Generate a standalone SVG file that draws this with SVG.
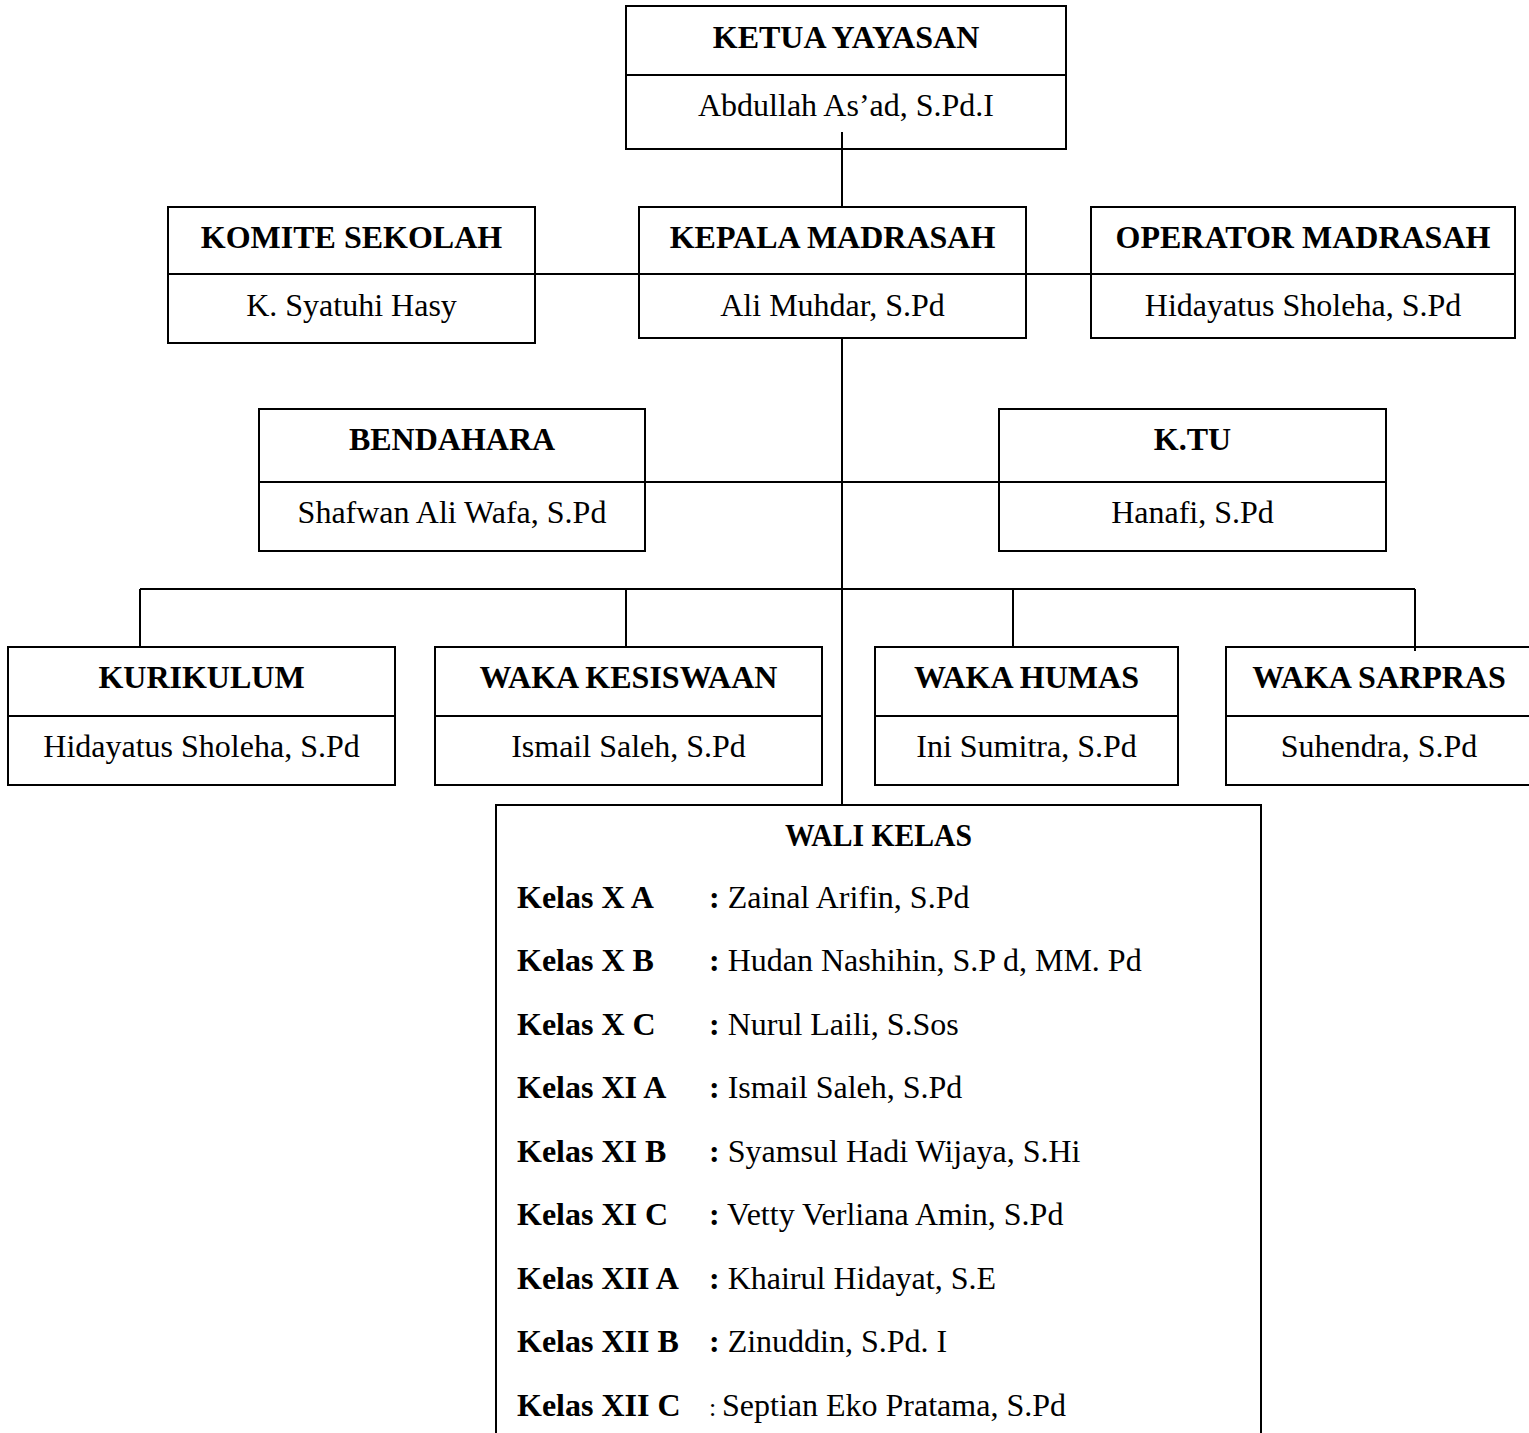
<svg xmlns="http://www.w3.org/2000/svg" width="1529" height="1433" viewBox="0 0 1529 1433">
<style>
.box{fill:#fff;stroke:#000;stroke-width:2}
.div{stroke:#000;stroke-width:2}
.t{font-family:"Liberation Serif","Times New Roman",serif;font-size:32px;font-weight:bold;text-anchor:middle;fill:#000}
.n{font-family:"Liberation Serif","Times New Roman",serif;font-size:32px;text-anchor:middle;fill:#000}
.k{font-family:"Liberation Serif","Times New Roman",serif;font-size:32px;font-weight:bold;fill:#000}
.v{font-family:"Liberation Serif","Times New Roman",serif;font-size:32px;fill:#000}
.c{stroke:#000;stroke-width:2;fill:none}
</style>
<rect width="1529" height="1433" fill="#fff"/>
<g id="ketua">
<rect class="box" x="626" y="6" width="440" height="143"/>
<line class="div" x1="626" y1="75" x2="1066" y2="75"/>
<text class="t" x="846" y="48">KETUA YAYASAN</text>
<text class="n" x="846" y="116">Abdullah As’ad, S.Pd.I</text>
</g>
<g id="komite">
<rect class="box" x="168" y="207" width="367" height="136"/>
<line class="div" x1="168" y1="274" x2="535" y2="274"/>
<text class="t" x="351.5" y="248">KOMITE SEKOLAH</text>
<text class="n" x="351.5" y="316">K. Syatuhi Hasy</text>
</g>
<g id="kepala">
<rect class="box" x="639" y="207" width="387" height="131"/>
<line class="div" x1="639" y1="274" x2="1026" y2="274"/>
<text class="t" x="832.5" y="248">KEPALA MADRASAH</text>
<text class="n" x="832.5" y="316">Ali Muhdar, S.Pd</text>
</g>
<g id="operator">
<rect class="box" x="1091" y="207" width="424" height="131"/>
<line class="div" x1="1091" y1="274" x2="1515" y2="274"/>
<text class="t" x="1303" y="248">OPERATOR MADRASAH</text>
<text class="n" x="1303" y="316">Hidayatus Sholeha, S.Pd</text>
</g>
<g id="bendahara">
<rect class="box" x="259" y="409" width="386" height="142"/>
<line class="div" x1="259" y1="482" x2="645" y2="482"/>
<text class="t" x="452" y="450">BENDAHARA</text>
<text class="n" x="452" y="523">Shafwan Ali Wafa, S.Pd</text>
</g>
<g id="ktu">
<rect class="box" x="999" y="409" width="387" height="142"/>
<line class="div" x1="999" y1="482" x2="1386" y2="482"/>
<text class="t" x="1192.5" y="450">K.TU</text>
<text class="n" x="1192.5" y="523">Hanafi, S.Pd</text>
</g>
<g id="kurikulum">
<rect class="box" x="8" y="647" width="387" height="138"/>
<line class="div" x1="8" y1="716" x2="395" y2="716"/>
<text class="t" x="201.5" y="688">KURIKULUM</text>
<text class="n" x="201.5" y="757">Hidayatus Sholeha, S.Pd</text>
</g>
<g id="kesiswaan">
<rect class="box" x="435" y="647" width="387" height="138"/>
<line class="div" x1="435" y1="716" x2="822" y2="716"/>
<text class="t" x="628.5" y="688">WAKA KESISWAAN</text>
<text class="n" x="628.5" y="757">Ismail Saleh, S.Pd</text>
</g>
<g id="humas">
<rect class="box" x="875" y="647" width="303" height="138"/>
<line class="div" x1="875" y1="716" x2="1178" y2="716"/>
<text class="t" x="1026.5" y="688">WAKA HUMAS</text>
<text class="n" x="1026.5" y="757">Ini Sumitra, S.Pd</text>
</g>
<g id="sarpras">
<rect class="box" x="1226" y="647" width="306" height="138"/>
<line class="div" x1="1226" y1="716" x2="1532" y2="716"/>
<text class="t" x="1379" y="688">WAKA SARPRAS</text>
<text class="n" x="1379" y="757">Suhendra, S.Pd</text>
</g>
<g id="walikelas">
<rect class="box" x="496" y="805" width="765" height="640"/>
<text class="t" x="878.5" y="846" textLength="187" lengthAdjust="spacingAndGlyphs">WALI KELAS</text>
<text class="k" x="517" y="908">Kelas X A</text><text x="709" y="908"><tspan class="k">:</tspan><tspan class="v"> Zainal Arifin, S.Pd</tspan></text>
<text class="k" x="517" y="971">Kelas X B</text><text x="709" y="971"><tspan class="k">:</tspan><tspan class="v"> Hudan Nashihin, S.P d, MM. Pd</tspan></text>
<text class="k" x="517" y="1035">Kelas X C</text><text x="709" y="1035"><tspan class="k">:</tspan><tspan class="v"> Nurul Laili, S.Sos</tspan></text>
<text class="k" x="517" y="1098">Kelas XI A</text><text x="709" y="1098"><tspan class="k">:</tspan><tspan class="v"> Ismail Saleh, S.Pd</tspan></text>
<text class="k" x="517" y="1162">Kelas XI B</text><text x="709" y="1162"><tspan class="k">:</tspan><tspan class="v"> Syamsul Hadi Wijaya, S.Hi</tspan></text>
<text class="k" x="517" y="1225">Kelas XI C</text><text x="709" y="1225"><tspan class="k">:</tspan><tspan class="v"> Vetty Verliana Amin, S.Pd</tspan></text>
<text class="k" x="517" y="1289">Kelas XII A</text><text x="709" y="1289"><tspan class="k">:</tspan><tspan class="v"> Khairul Hidayat, S.E</tspan></text>
<text class="k" x="517" y="1352">Kelas XII B</text><text x="709" y="1352"><tspan class="k">:</tspan><tspan class="v"> Zinuddin, S.Pd. I</tspan></text>
<text class="k" x="517" y="1416">Kelas XII C</text><text class="v" x="709" y="1416" style="font-size:26px">:</text><text class="v" x="722" y="1416">Septian Eko Pratama, S.Pd</text>
</g>
<g id="connectors">
<line class="c" x1="842" y1="132" x2="842" y2="207"/>
<line class="c" x1="535" y1="274" x2="639" y2="274"/>
<line class="c" x1="1026" y1="274" x2="1091" y2="274"/>
<line class="c" x1="842" y1="338" x2="842" y2="805"/>
<line class="c" x1="645" y1="482" x2="999" y2="482"/>
<line class="c" x1="140" y1="589" x2="1415" y2="589"/>
<line class="c" x1="140" y1="589" x2="140" y2="647"/>
<line class="c" x1="626" y1="589" x2="626" y2="647"/>
<line class="c" x1="1013" y1="589" x2="1013" y2="647"/>
<line class="c" x1="1415" y1="589" x2="1415" y2="651"/>
</g>
</svg>
